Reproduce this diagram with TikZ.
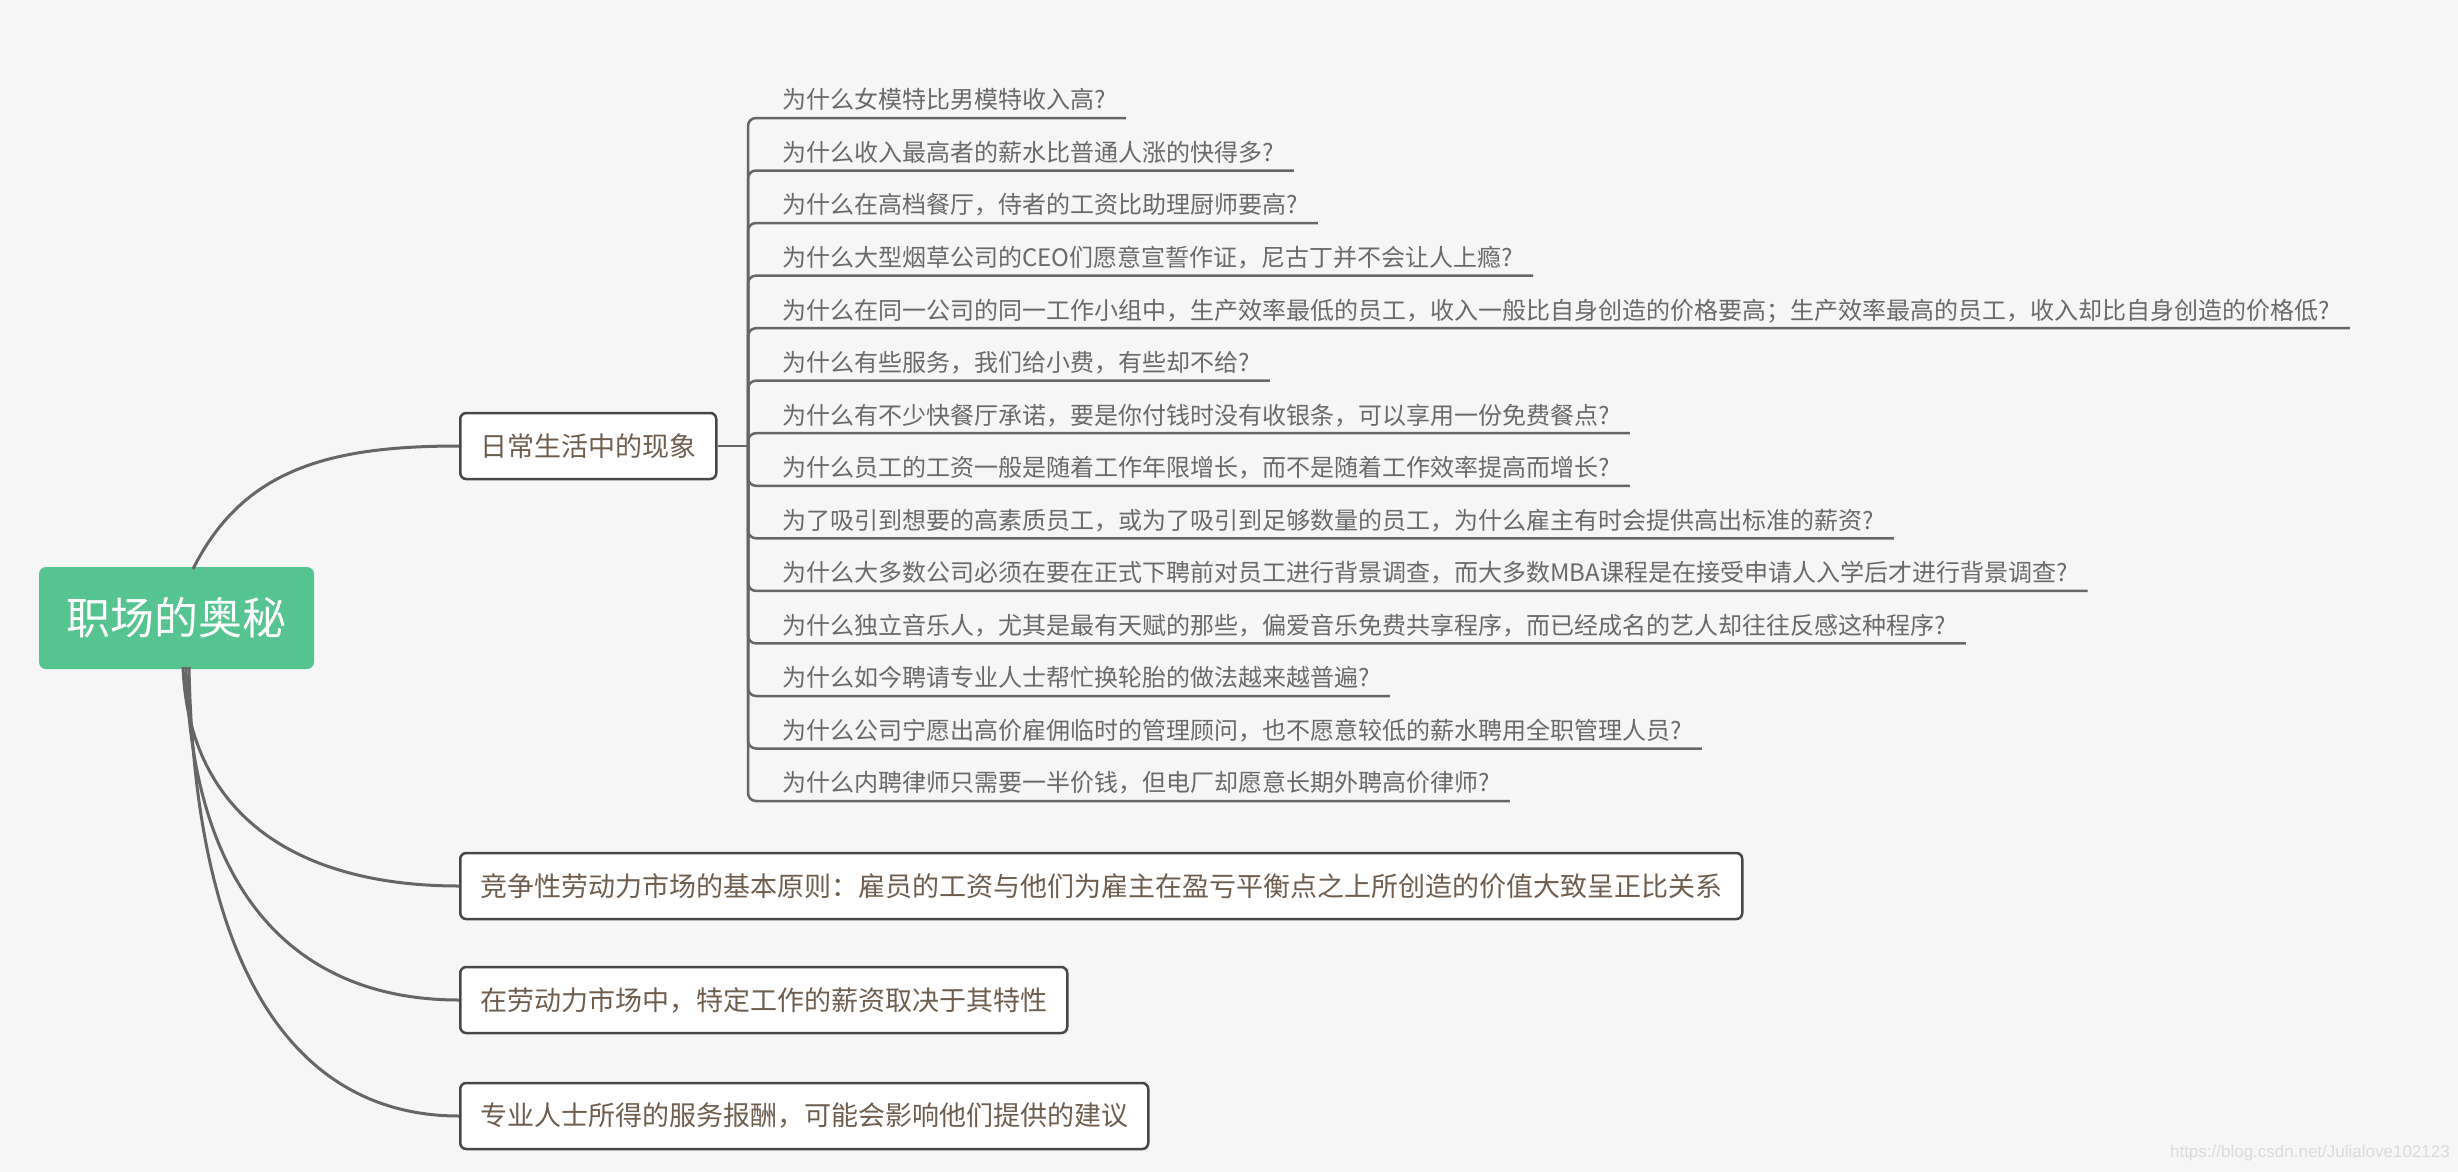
\documentclass[tikz,border=0pt]{standalone}
\usepackage{fontspec}
\setmainfont{Noto Sans CJK SC}
\newfontfamily\wmfont{Liberation Sans}
\definecolor{bg}{HTML}{F6F6F6}
\definecolor{rootgreen}{HTML}{56C490}
\definecolor{boxborder}{HTML}{474747}
\definecolor{branchtext}{HTML}{6F5E4E}
\definecolor{leaftext}{HTML}{6A6A6A}
\definecolor{linegray}{HTML}{666666}
\definecolor{wmgray}{HTML}{DADADA}
\tikzset{
  rootbox/.style={fill=rootgreen, rounded corners=7pt, minimum width=275pt, minimum height=102pt, inner sep=0pt, text=white, font=\fontsize{44}{50}\selectfont},
  branchbox/.style={draw=boxborder, line width=2.5pt, fill=white, rounded corners=6pt, minimum height=66pt, inner xsep=20pt, inner ysep=0pt, text=branchtext, font=\fontsize{27}{32}\selectfont, anchor=west},
  leafnode/.style={anchor=south west, inner sep=0pt, text depth=9pt, text=leaftext, font=\fontsize{24}{28}\selectfont},
  link/.style={draw=linegray, line width=3pt},
  twig/.style={draw=linegray, line width=2.5pt, rounded corners=8pt},
}
\begin{document}
\begin{tikzpicture}[x=1pt,y=-1pt]
\useasboundingbox[fill=bg] (0,0) rectangle (2458,1172);

\node[rootbox] (root) at (176.5,618) {职场的奥秘};

\node[branchbox] (b1) at (459,446) {日常生活中的现象};
\node[branchbox] (b2) at (459,886) {竞争性劳动力市场的基本原则：雇员的工资与他们为雇主在盈亏平衡点之上所创造的价值大致呈正比关系};
\node[branchbox] (b3) at (459,1000) {在劳动力市场中，特定工作的薪资取决于其特性};
\node[branchbox] (b4) at (459,1116) {专业人士所得的服务报酬，可能会影响他们提供的建议};

\coordinate (r1) at (193,569);
\coordinate (r2) at (183,667);
\coordinate (r3) at (186,667);
\coordinate (r4) at (189,667);

\draw[link] (r1) .. controls +(50,-100) and +(-130,0) .. (b1.west);
\draw[link] (r2) .. controls +(6,150) and +(-160,0) .. (b2.west);
\draw[link] (r3) .. controls +(6,230) and +(-160,0) .. (b3.west);
\draw[link] (r4) .. controls +(6,310) and +(-160,0) .. (b4.west);

\coordinate (j) at (748,446);
\draw[twig, rounded corners=0pt] (b1.east) -- (j);

\node[leafnode] (l1) at (782,118) {为什么女模特比男模特收入高?};
\node[leafnode] (l2) at (782,170.5) {为什么收入最高者的薪水比普通人涨的快得多?};
\node[leafnode] (l3) at (782,223) {为什么在高档餐厅，侍者的工资比助理厨师要高?};
\node[leafnode] (l4) at (782,275.6) {为什么大型烟草公司的CEO们愿意宣誓作证，尼古丁并不会让人上瘾?};
\node[leafnode] (l5) at (782,328.2) {为什么在同一公司的同一工作小组中，生产效率最低的员工，收入一般比自身创造的价格要高；生产效率最高的员工，收入却比自身创造的价格低?};
\node[leafnode] (l6) at (782,380.7) {为什么有些服务，我们给小费，有些却不给?};
\node[leafnode] (l7) at (782,433.2) {为什么有不少快餐厅承诺，要是你付钱时没有收银条，可以享用一份免费餐点?};
\node[leafnode] (l8) at (782,485.8) {为什么员工的工资一般是随着工作年限增长，而不是随着工作效率提高而增长?};
\node[leafnode] (l9) at (782,538.3) {为了吸引到想要的高素质员工，或为了吸引到足够数量的员工，为什么雇主有时会提供高出标准的薪资?};
\node[leafnode] (l10) at (782,590.9) {为什么大多数公司必须在要在正式下聘前对员工进行背景调查，而大多数MBA课程是在接受申请人入学后才进行背景调查?};
\node[leafnode] (l11) at (782,643.4) {为什么独立音乐人，尤其是最有天赋的那些，偏爱音乐免费共享程序，而已经成名的艺人却往往反感这种程序?};
\node[leafnode] (l12) at (782,696) {为什么如今聘请专业人士帮忙换轮胎的做法越来越普遍?};
\node[leafnode] (l13) at (782,748.5) {为什么公司宁愿出高价雇佣临时的管理顾问，也不愿意较低的薪水聘用全职管理人员?};
\node[leafnode] (l14) at (782,801) {为什么内聘律师只需要一半价钱，但电厂却愿意长期外聘高价律师?};

\foreach \n in {l1,l2,l3,l4,l5,l6,l7,l8,l9,l10,l11,l12,l13,l14}
  \draw[twig] (j) |- ([xshift=20pt]\n.south east);

\node[anchor=east, inner sep=0pt, text=wmgray, font=\wmfont\fontsize{17}{20}\selectfont] (wm) at (2450,1153) {https://blog.csdn.net/Julialove102123};
\end{tikzpicture}
\end{document}
